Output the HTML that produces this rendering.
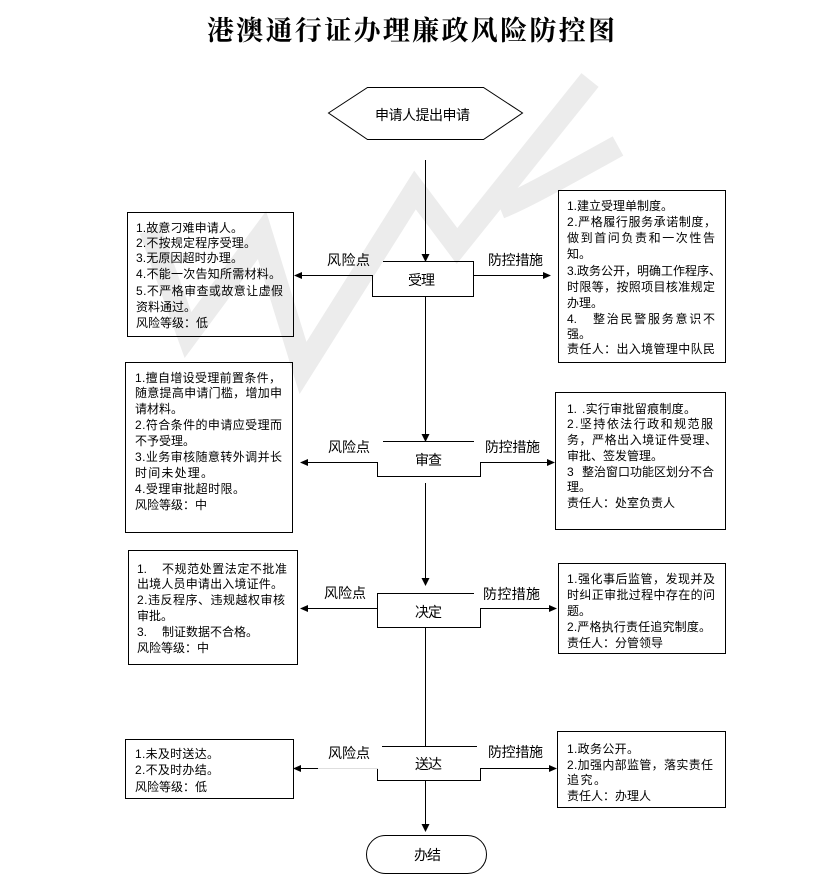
<!DOCTYPE html>
<html><head><meta charset="utf-8"><style>
html,body{margin:0;padding:0;background:#fff;}
svg{display:block;}
.t{font-family:"Liberation Sans","Noto Sans CJK SC",sans-serif;font-size:12px;fill:#000;}
.l{font-family:"Liberation Sans","Noto Sans CJK SC",sans-serif;font-size:14px;fill:#000;}
</style></head><body>
<svg width="823" height="889" viewBox="0 0 823 889" xmlns="http://www.w3.org/2000/svg">
<rect width="823" height="889" fill="#fff"/>
<!-- watermark -->
<g fill="none" stroke="#ececec" stroke-width="22" stroke-linejoin="miter" stroke-linecap="butt">
<path d="M150,230 L188,335 L262,235 L303,368 L415,190 L457,246 L590,80"/>
<path d="M500,208 Q520,200 560,178 L618,146"/>
</g>
<!-- title -->
<text x="207" y="40" textLength="408" lengthAdjust="spacing" style="font-family:'Liberation Serif','Noto Serif CJK SC',serif;font-size:27px;font-weight:bold;fill:#000;">港澳通行证办理廉政风险防控图</text>

<g stroke="#000" stroke-width="1" fill="none" shape-rendering="crispEdges">
<polygon points="328.5,113 367.5,87.5 483.5,87.5 522.5,113 483.5,139.5 367.5,139.5" shape-rendering="auto"/>
<line x1="425.5" y1="160" x2="425.5" y2="256"/>
<line x1="425.5" y1="297" x2="425.5" y2="436"/>
<line x1="425.5" y1="483" x2="425.5" y2="580"/>
<line x1="425.5" y1="628" x2="425.5" y2="746"/>
<line x1="425.5" y1="780" x2="425.5" y2="826"/>

<line x1="383" y1="261.5" x2="474" y2="261.5"/>
<line x1="473.5" y1="261" x2="473.5" y2="297"/>
<line x1="372.5" y1="275" x2="372.5" y2="297"/>
<line x1="372" y1="296.5" x2="474" y2="296.5"/>
<line x1="300" y1="275.5" x2="373" y2="275.5"/>
<line x1="473" y1="275.5" x2="545" y2="275.5"/>

<line x1="383" y1="441.5" x2="474" y2="441.5"/>
<line x1="377.5" y1="462" x2="377.5" y2="477"/>
<line x1="377" y1="476.5" x2="481" y2="476.5"/>
<line x1="480.5" y1="462" x2="480.5" y2="477"/>
<line x1="306" y1="462.5" x2="378" y2="462.5"/>
<line x1="480" y1="462.5" x2="549" y2="462.5"/>

<line x1="377" y1="593.5" x2="474" y2="593.5"/>
<line x1="377.5" y1="593" x2="377.5" y2="628"/>
<line x1="377" y1="627.5" x2="481" y2="627.5"/>
<line x1="480.5" y1="608" x2="480.5" y2="628"/>
<line x1="306" y1="608.5" x2="378" y2="608.5"/>
<line x1="480" y1="608.5" x2="551" y2="608.5"/>

<line x1="382" y1="746.5" x2="477" y2="746.5"/>
<line x1="377.5" y1="768" x2="377.5" y2="781"/>
<line x1="377" y1="780.5" x2="481" y2="780.5"/>
<line x1="480.5" y1="768" x2="480.5" y2="781"/>
<line x1="299" y1="768.5" x2="318" y2="768.5"/>
<line x1="318" y1="768.5" x2="378" y2="768.5" stroke="#dedede"/>
<line x1="480" y1="768.5" x2="551" y2="768.5"/>

<rect x="366.5" y="835.5" width="120" height="38" rx="19" ry="19" shape-rendering="auto"/>

<rect x="127.5" y="212.5" width="166" height="124"/>
<rect x="125.5" y="362.5" width="167" height="170"/>
<rect x="128.5" y="550.5" width="169" height="114"/>
<rect x="125.5" y="739.5" width="168" height="59"/>
<rect x="558.5" y="190.5" width="167" height="172"/>
<rect x="555.5" y="392.5" width="170" height="137"/>
<rect x="558.5" y="563.5" width="167" height="90"/>
<rect x="557.5" y="731.5" width="168" height="76"/>
</g>

<g fill="#000">
<polygon points="421.5,254 429.5,254 425.5,262"/>
<polygon points="421.5,434 429.5,434 425.5,442"/>
<polygon points="421.5,578 429.5,578 425.5,586"/>
<polygon points="421.5,824 429.5,824 425.5,832"/>
<polygon points="302,272 302,279 294,275.5"/>
<polygon points="308,459 308,466 300,462.5"/>
<polygon points="308,605 308,612 300,608.5"/>
<polygon points="301,765 301,772 293,768.5"/>
<polygon points="543,272 543,279 551,275.5"/>
<polygon points="547,459 547,466 555,462.5"/>
<polygon points="549,605 549,612 557,608.5"/>
<polygon points="549,765 549,772 557,768.5"/>
</g>

<text class="l" x="375" y="120" textLength="95" lengthAdjust="spacing">申请人提出申请</text>

<text class="l" x="408" y="285" textLength="27" lengthAdjust="spacing">受理</text>
<text class="l" x="415" y="465" textLength="27" lengthAdjust="spacing">审查</text>
<text class="l" x="415" y="617" textLength="27" lengthAdjust="spacing">决定</text>
<text class="l" x="415" y="769" textLength="27" lengthAdjust="spacing">送达</text>
<text class="l" x="414" y="860" textLength="27" lengthAdjust="spacing">办结</text>

<text class="l" x="327" y="265" textLength="43" lengthAdjust="spacing">风险点</text>
<text class="l" x="488" y="265" textLength="55" lengthAdjust="spacing">防控措施</text>
<text class="l" x="328" y="452" textLength="42" lengthAdjust="spacing">风险点</text>
<text class="l" x="485" y="452" textLength="55" lengthAdjust="spacing">防控措施</text>
<text class="l" x="324" y="598" textLength="42" lengthAdjust="spacing">风险点</text>
<text class="l" x="483" y="599" textLength="57" lengthAdjust="spacing">防控措施</text>
<text class="l" x="328" y="758" textLength="42" lengthAdjust="spacing">风险点</text>
<text class="l" x="488" y="757" textLength="55" lengthAdjust="spacing">防控措施</text>

<!-- left box 1 -->
<text class="t" x="136" y="232" textLength="107" lengthAdjust="spacing">1.故意刁难申请人。</text>
<text class="t" x="136" y="247" textLength="120" lengthAdjust="spacing">2.不按规定程序受理。</text>
<text class="t" x="136" y="262" textLength="107" lengthAdjust="spacing">3.无原因超时办理。</text>
<text class="t" x="136" y="278" textLength="145" lengthAdjust="spacing">4.不能一次告知所需材料。</text>
<text class="t" x="136" y="295" textLength="147" lengthAdjust="spacing">5.不严格审查或故意让虚假</text>
<text class="t" x="136" y="311">资料通过。</text>
<text class="t" x="136" y="327">风险等级：低</text>

<!-- right box 1 -->
<text class="t" x="567" y="210">1.建立受理单制度。</text>
<text class="t" x="567" y="226" textLength="149" lengthAdjust="spacing">2.严格履行服务承诺制度，</text>
<text class="t" x="567" y="242" textLength="148" lengthAdjust="spacing">做到首问负责和一次性告</text>
<text class="t" x="567" y="258">知。</text>
<text class="t" x="567" y="275">3.政务公开，明确工作程序、</text>
<text class="t" x="567" y="291" textLength="148" lengthAdjust="spacing">时限等，按照项目核准规定</text>
<text class="t" x="567" y="307">办理。</text>
<text class="t" x="567" y="323">4.</text>
<text class="t" x="593" y="323" textLength="122" lengthAdjust="spacing">整治民警服务意识不</text>
<text class="t" x="567" y="338">强。</text>
<text class="t" x="567" y="353" textLength="148" lengthAdjust="spacing">责任人：出入境管理中队民</text>

<!-- left box 2 -->
<text class="t" x="135" y="382" textLength="146" lengthAdjust="spacing">1.擅自增设受理前置条件，</text>
<text class="t" x="135" y="397" textLength="147" lengthAdjust="spacing">随意提高申请门槛，增加申</text>
<text class="t" x="135" y="413">请材料。</text>
<text class="t" x="135" y="429" textLength="147" lengthAdjust="spacing">2.符合条件的申请应受理而</text>
<text class="t" x="135" y="445">不予受理。</text>
<text class="t" x="135" y="461" textLength="147" lengthAdjust="spacing">3.业务审核随意转外调并长</text>
<text class="t" x="135" y="477" textLength="78" lengthAdjust="spacing">时间未处理。</text>
<text class="t" x="135" y="493" textLength="110" lengthAdjust="spacing">4.受理审批超时限。</text>
<text class="t" x="135" y="509">风险等级：中</text>

<!-- right box 2 -->
<text class="t" x="567" y="413">1.</text>
<text class="t" x="582" y="413" textLength="114" lengthAdjust="spacing">.实行审批留痕制度。</text>
<text class="t" x="567" y="428" textLength="146" lengthAdjust="spacing">2.坚持依法行政和规范服</text>
<text class="t" x="567" y="444" textLength="150" lengthAdjust="spacing">务，严格出入境证件受理、</text>
<text class="t" x="567" y="460">审批、签发管理。</text>
<text class="t" x="567" y="476">3</text>
<text class="t" x="582" y="476" textLength="132" lengthAdjust="spacing">整治窗口功能区划分不合</text>
<text class="t" x="567" y="491">理。</text>
<text class="t" x="567" y="507">责任人：处室负责人</text>

<!-- left box 3 -->
<text class="t" x="137" y="573">1.</text>
<text class="t" x="162" y="573" textLength="125" lengthAdjust="spacing">不规范处置法定不批准</text>
<text class="t" x="137" y="588" textLength="146" lengthAdjust="spacing">出境人员申请出入境证件。</text>
<text class="t" x="137" y="604" textLength="148" lengthAdjust="spacing">2.违反程序、违规越权审核</text>
<text class="t" x="137" y="620">审批。</text>
<text class="t" x="137" y="636">3.</text>
<text class="t" x="162" y="636">制证数据不合格。</text>
<text class="t" x="137" y="652">风险等级：中</text>

<!-- right box 3 -->
<text class="t" x="567" y="583" textLength="148" lengthAdjust="spacing">1.强化事后监管，发现并及</text>
<text class="t" x="567" y="599" textLength="148" lengthAdjust="spacing">时纠正审批过程中存在的问</text>
<text class="t" x="567" y="615">题。</text>
<text class="t" x="567" y="631" textLength="144" lengthAdjust="spacing">2.严格执行责任追究制度。</text>
<text class="t" x="567" y="647">责任人：分管领导</text>

<!-- left box 4 -->
<text class="t" x="135" y="758" textLength="84" lengthAdjust="spacing">1.未及时送达。</text>
<text class="t" x="135" y="774" textLength="84" lengthAdjust="spacing">2.不及时办结。</text>
<text class="t" x="135" y="791">风险等级：低</text>

<!-- right box 4 -->
<text class="t" x="567" y="753" textLength="72" lengthAdjust="spacing">1.政务公开。</text>
<text class="t" x="567" y="769" textLength="146" lengthAdjust="spacing">2.加强内部监管，落实责任</text>
<text class="t" x="567" y="784" textLength="39" lengthAdjust="spacing">追究。</text>
<text class="t" x="567" y="800">责任人：办理人</text>
</svg>
</body></html>
